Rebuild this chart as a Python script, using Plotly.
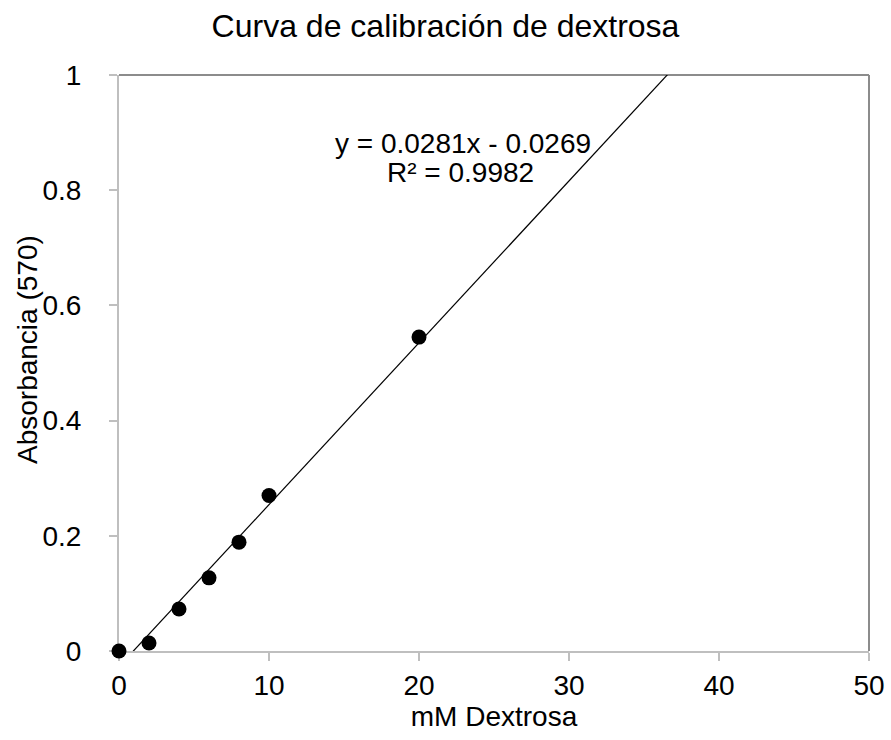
import plotly.graph_objects as go

conc = [0, 2, 4, 6, 8, 10, 20]
absorb = [0.0, 0.014, 0.073, 0.127, 0.189, 0.27, 0.545]
slope = 0.0281
intercept = -0.0269
fit_x = [0, 50]
fit_y = [slope * v + intercept for v in fit_x]

FONT = "Liberation Sans, Arial, sans-serif"
FS = 28
W, H = 891, 740
L, R, T, B = 119, 22, 75, 89
PW, PH = W - L - R, H - T - B


def px2paper(px, py):
    return (px - L) / PW, 1 - (py - T) / PH


fig = go.Figure()
fig.add_trace(go.Scatter(x=fit_x, y=fit_y, mode="lines",
                         line=dict(color="black", width=1.2), showlegend=False, hoverinfo="skip"))
fig.add_trace(go.Scatter(x=conc, y=absorb, mode="markers",
                         marker=dict(color="black", size=15), cliponaxis=False, showlegend=False))

ax, ay = px2paper(463, 143)
fig.add_annotation(x=ax, y=ay, xref="paper", yref="paper", xanchor="center", yanchor="middle",
                   text="y = 0.0281x - 0.0269", showarrow=False,
                   font=dict(family=FONT, size=FS, color="black"))
ax, ay = px2paper(460, 173)
fig.add_annotation(x=ax, y=ay, xref="paper", yref="paper", xanchor="center", yanchor="middle",
                   text="R² = 0.9982", showarrow=False,
                   font=dict(family=FONT, size=FS, color="black"))
# y-axis title
ax, ay = px2paper(27, 350)
fig.add_annotation(x=ax, y=ay, xref="paper", yref="paper", xanchor="center", yanchor="middle",
                   text="Absorbancia (570)", textangle=-90, showarrow=False,
                   font=dict(family=FONT, size=FS, color="black"))

# darker top/right frame
fig.add_shape(type="line", xref="x domain", yref="y domain", x0=0, x1=1, y0=1, y1=1,
              line=dict(color="#8C8C8C", width=2), layer="below")
fig.add_shape(type="line", xref="x domain", yref="y domain", x0=1, x1=1, y0=0, y1=1,
              line=dict(color="#8C8C8C", width=2), layer="below")

fig.update_layout(
    width=W, height=H,
    margin=dict(l=L, r=R, t=T, b=B, autoexpand=False),
    paper_bgcolor="white", plot_bgcolor="white",
    font=dict(family=FONT, size=FS, color="black"),
    title=dict(text="Curva de calibración de dextrosa", x=0.5, xanchor="center",
               y=1 - 26 / H, yanchor="middle", font=dict(family=FONT, size=32)),
    xaxis=dict(range=[0, 50], dtick=10, showgrid=False, zeroline=False, automargin=False,
               showline=True, linecolor="#BFBFBF", linewidth=2, layer="below traces",
               ticks="outside", ticklen=8, tickcolor="#BFBFBF", tickwidth=2,
               title=dict(text="mM Dextrosa", standoff=6, font=dict(size=FS)),
               tickfont=dict(size=FS)),
    yaxis=dict(range=[0, 1], showgrid=False, zeroline=False, automargin=False,
               showline=True, linecolor="#BFBFBF", linewidth=2, layer="below traces",
               ticks="outside", ticklen=8, tickcolor="#BFBFBF", tickwidth=2,
               tickvals=[0, 0.2, 0.4, 0.6, 0.8, 1], ticktext=["0", "0.2", "0.4", "0.6", "0.8", "1"],
               ticklabelstandoff=22,
               tickfont=dict(size=FS)),
)

fig.write_html("out.html")
